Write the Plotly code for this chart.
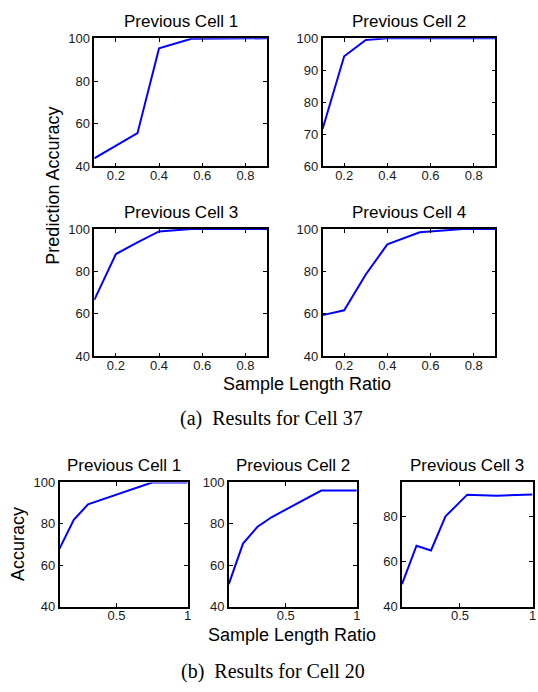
import plotly.graph_objects as go

W, H = 538, 692

# ---- data ----
a1_x = [0.1, 0.3, 0.4, 0.55, 0.9]
a1_y = [43.8, 55.6, 95.3, 99.8, 100]
a2_x = [0.1, 0.2, 0.3, 0.4, 0.9]
a2_y = [71.7, 94.4, 99.5, 100, 100]
a3_x = [0.1, 0.2, 0.3, 0.4, 0.55, 0.9]
a3_y = [66.6, 88.2, 93.7, 98.9, 100, 100]
a4_x = [0.1, 0.2, 0.3, 0.4, 0.55, 0.75, 0.9]
a4_y = [59.4, 61.7, 78.6, 92.8, 98.5, 100, 100]
b1_x = [0.1, 0.2, 0.3, 0.75, 1.0]
b1_y = [68.1, 82.0, 89.4, 100, 100]
b2_x = [0.1, 0.2, 0.3, 0.4, 0.75, 1.0]
b2_y = [50.9, 70.5, 78.5, 83.2, 96.1, 96.1]
b3_x = [0.1, 0.2, 0.3, 0.4, 0.55, 0.75, 1.0]
b3_y = [50.0, 67.0, 64.9, 80.0, 89.6, 89.1, 89.7]

titles = ["Previous Cell 1", "Previous Cell 2", "Previous Cell 3", "Previous Cell 4",
          "Previous Cell 1", "Previous Cell 2", "Previous Cell 3"]
a_xticks = [0.2, 0.4, 0.6, 0.8]
b_xticks = [0.5, 1]
xlabel = "Sample Length Ratio"
ylabel_a = "Prediction Accuracy"
ylabel_b = "Accuracy"
caption_a = "(a)\u00a0\u00a0Results for Cell 37"
caption_b = "(b)\u00a0\u00a0Results for Cell 20"

series = [(a1_x, a1_y), (a2_x, a2_y), (a3_x, a3_y), (a4_x, a4_y),
          (b1_x, b1_y), (b2_x, b2_y), (b3_x, b3_y)]

# panel boxes in pixels: (left, right, top, bottom)
boxes = [(95, 269, 32, 163), (325, 499, 32, 163),
         (95, 269, 227, 357), (325, 499, 227, 357),
         (60, 189, 486, 613), (230.5, 359.5, 486, 613), (405, 536.5, 486, 613)]
xranges = [[0.1, 0.9]] * 4 + [[0.1, 1.0]] * 3
yranges = [[40, 100], [60, 100], [40, 100], [40, 100], [40, 100], [40, 100], [40, 95]]
yticks = [[40, 60, 80, 100], [60, 70, 80, 90, 100], [40, 60, 80, 100], [40, 60, 80, 100],
          [40, 60, 80, 100], [40, 60, 80, 100], [40, 60, 80]]
xticks = [a_xticks] * 4 + [b_xticks] * 3

FONT = "Liberation Sans, Arial, Helvetica, sans-serif"
SERIF = "Liberation Serif, Times New Roman, serif"

fig = go.Figure()
layout = dict(width=W, height=H, margin=dict(l=0, r=0, t=0, b=0),
              paper_bgcolor="white", plot_bgcolor="white", showlegend=False,
              font=dict(family=FONT, size=13, color="#1a1a1a"))

annotations = []
for i, ((sx, sy), (l, r, t, b)) in enumerate(zip(series, boxes)):
    n = i + 1
    xa = "x" if n == 1 else f"x{n}"
    ya = "y" if n == 1 else f"y{n}"
    fig.add_trace(go.Scatter(x=sx, y=sy, mode="lines", xaxis=xa, yaxis=ya,
                             line=dict(color="#0000ff", width=2)))
    common = dict(showline=True, linecolor="black", linewidth=1.5, mirror="ticks",
                  ticks="inside", ticklen=4, tickcolor="black", tickwidth=1,
                  showgrid=False, zeroline=False, tickfont=dict(size=13, family=FONT, color="#1a1a1a"))
    layout["xaxis" if n == 1 else f"xaxis{n}"] = dict(
        domain=[l / W, r / W], range=xranges[i], tickvals=xticks[i],
        anchor=ya, ticklabelstandoff=-4, **common)
    layout["yaxis" if n == 1 else f"yaxis{n}"] = dict(
        domain=[1 - b / H, 1 - t / H], range=yranges[i], tickvals=yticks[i],
        anchor=xa, **common)
    # panel title
    ty = {32: 14.5, 227: 210, 486: 469}[t]
    annotations.append(dict(text=titles[i], x=(l + r) / 2 / W, y=1 - ty / H,
                            xref="paper", yref="paper", xanchor="center", yanchor="middle",
                            showarrow=False, font=dict(size=17, family=FONT, color="black")))

def ann(text, xpx, ypx, size, family, angle=0):
    annotations.append(dict(text=text, x=xpx / W, y=1 - ypx / H, xref="paper", yref="paper",
                            xanchor="center", yanchor="middle", showarrow=False,
                            textangle=angle, font=dict(size=size, family=family, color="black")))

ann(xlabel, 309, 385, 18, FONT)
ann(ylabel_a, 53, 183, 18, FONT, -90)
ann(caption_a, 274, 421, 20, SERIF)
ann(xlabel, 294, 642, 18, FONT)
ann(ylabel_b, 18, 549, 18, FONT, -90)
ann(caption_b, 275, 679, 20, SERIF)

layout["annotations"] = annotations
fig.update_layout(**layout)
fig.write_html("out.html", config={"displayModeBar": False},
               post_script="document.body.style.margin='0';document.body.style.overflow='hidden';")
